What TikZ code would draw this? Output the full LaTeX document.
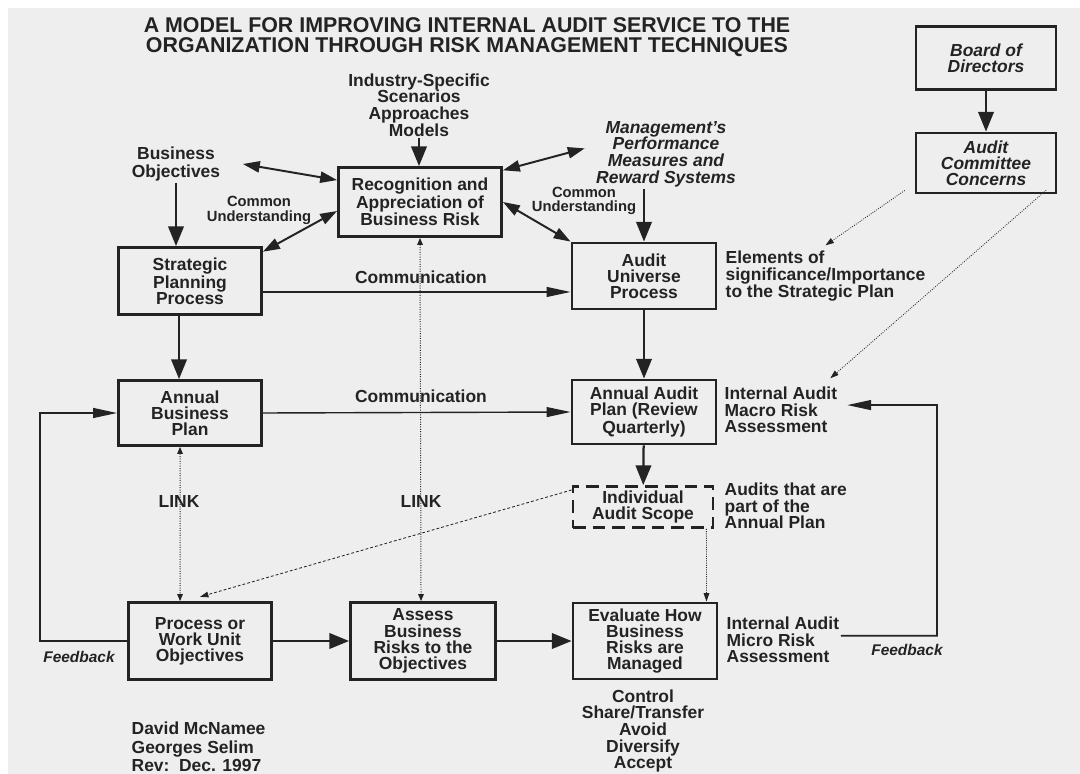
\documentclass[tikz,border=0pt]{standalone}
\usepackage{fontspec}
\setmainfont{Liberation Sans}
\usetikzlibrary{arrows.meta}
\definecolor{ink}{HTML}{232323}
\definecolor{paper}{HTML}{EEEEEE}

\begin{document}
\begin{tikzpicture}[x=0.025cm, y=-0.025cm,
  box/.style={draw=ink, line width=2pt, align=center, inner sep=1pt, text=ink, font=\bfseries\fontsize{12.4}{11.5}\selectfont},
  itbox/.style={box, font=\bfseries\itshape\fontsize{12.4}{11.5}\selectfont},
  lbl/.style={align=center, inner sep=1pt, text=ink, font=\bfseries\fontsize{12.4}{11.8}\selectfont},
  itlbl/.style={lbl, font=\bfseries\itshape\fontsize{12.4}{11.9}\selectfont},
  small/.style={lbl, font=\bfseries\fontsize{10.5}{10.5}\selectfont},
  fbtxt/.style={lbl, font=\bfseries\itshape\fontsize{11}{12}\selectfont},
  big/.style={draw=ink, line width=1.6pt, -{Triangle[length=14pt,width=11pt]}},
  dbl/.style={draw=ink, line width=1.4pt, {Triangle[length=12pt,width=8pt]}-{Triangle[length=12pt,width=8pt]}},
  comm/.style={draw=ink, line width=1pt, -{Triangle[length=17pt,width=7pt]}},
  fb/.style={draw=ink, line width=1.2pt, -{Triangle[length=17pt,width=7pt]}},
  link/.style={draw=ink, line width=0.7pt, densely dotted, {Triangle[length=5pt,width=4pt]}-{Triangle[length=5pt,width=4pt]}},
  dots/.style={draw=ink, line width=0.6pt, densely dotted, -{Triangle[length=6pt,width=4pt]}},
  dashln/.style={draw=ink, line width=0.6pt, dash pattern=on 2pt off 1.5pt, -{Triangle[length=6pt,width=4pt]}}
]
\useasboundingbox (0,0) rectangle (1080,774);
\fill[white] (0,0) rectangle (1080,774);
\fill[paper] (8,8) rectangle (1080,774);

% title
\node[lbl, font=\bfseries\fontsize{15.2}{14.2}\selectfont] (title) at (467,37)
  {A MODEL FOR IMPROVING INTERNAL AUDIT SERVICE TO THE\\ORGANIZATION THROUGH RISK MANAGEMENT TECHNIQUES};

% boxes
\node[itbox, minimum width=3.5cm, minimum height=1.575cm] (board) at (986,58) {Board of\\Directors};
\node[itbox, minimum width=3.5cm, minimum height=1.5cm] (committee) at (986,163) {Audit\\Committee\\Concerns};
\node[box, minimum width=4.075cm, minimum height=1.725cm] (recog) at (420,202) {Recognition and\\Appreciation of\\Business Risk};
\node[box, minimum width=3.575cm, minimum height=1.675cm] (strat) at (190,281) {Strategic\\Planning\\Process};
\node[box, minimum width=3.575cm, minimum height=1.625cm] (abp) at (190,413) {Annual\\Business\\Plan};
\node[box, minimum width=3.6cm, minimum height=1.65cm] (univ) at (644,276) {Audit\\Universe\\Process};
\node[box, minimum width=3.6cm, minimum height=1.6cm] (aap) at (644,412) {Annual Audit\\Plan (Review\\Quarterly)};
\node[box, dash pattern=on 9pt off 5pt, minimum width=3.5cm, minimum height=1.025cm] (scope) at (643,507) {Individual\\Audit Scope};
\node[box, minimum width=3.575cm, minimum height=1.925cm] (proc) at (200,641) {Process or\\Work Unit\\Objectives};
\node[box, minimum width=3.625cm, minimum height=1.925cm] (assess) at (423,641) {Assess\\Business\\Risks to the\\Objectives};
\node[box, minimum width=3.6cm, minimum height=1.9cm] (eval) at (645,641) {Evaluate How\\Business\\Risks are\\Managed};

% free texts
\node[lbl, font=\bfseries\fontsize{12.4}{11.9}\selectfont] (industry) at (419,105) {Industry-Specific\\Scenarios\\Approaches\\Models};
\node[lbl, font=\bfseries\fontsize{12.4}{12.5}\selectfont] (bizobj) at (176,164) {Business\\Objectives};
\node[itlbl] (mgmt) at (666,154) {Management's\\Performance\\Measures and\\Reward Systems};
\node[small, font=\bfseries\fontsize{10.5}{10.7}\selectfont] (cu1) at (259,210) {Common\\Understanding};
\node[small, font=\bfseries\fontsize{10.5}{9.4}\selectfont] (cu2) at (584,201) {Common\\Understanding};
\node[lbl, align=left, anchor=west] (elements) at (724,276) {Elements of\\significance/Importance\\to the Strategic Plan};
\node[lbl, align=left, anchor=west] (macro) at (723,410) {Internal Audit\\Macro Risk\\Assessment};
\node[lbl, align=left, anchor=west] (audits) at (723,506) {Audits that are\\part of the\\Annual Plan};
\node[lbl, align=left, anchor=west] (micro) at (725,640) {Internal Audit\\Micro Risk\\Assessment};
\node[lbl] (comm1) at (421,277) {Communication};
\node[lbl] (comm2) at (421,396) {Communication};
\node[lbl] (link1) at (179,502) {LINK};
\node[lbl] (link2) at (421,502) {LINK};
\node[fbtxt] (fb1) at (79,657) {Feedback};
\node[fbtxt] (fb2) at (907,650) {Feedback};
\node[lbl, font=\bfseries\fontsize{12.4}{11.9}\selectfont] (control) at (643,731) {Control\\Share/Transfer\\Avoid\\Diversify\\Accept};
\node[lbl, align=left, anchor=west, font=\bfseries\fontsize{12.4}{13}\selectfont] (authors) at (130,747) {David McNamee\\Georges Selim\\Rev:\ \ Dec. 1997};

% solid arrows
\draw[big] (board) -- (committee);
\draw[big] (industry.south) -- (industry.south |- recog.north);
\draw[big] (bizobj.south) -- (bizobj.south |- strat.north);
\draw[big] (univ.north |- mgmt.south) -- (univ.north);
\draw[big] ([xshift=-7.8pt]strat.south) -- ([xshift=-7.8pt]abp.north);
\draw[big] (univ) -- (aap);
\draw[big] (aap) -- (scope);
\draw[big] (proc) -- (assess);
\draw[big] (assess) -- (eval);

\draw[dbl] ([xshift=15pt]bizobj.east) -- ([yshift=15.6pt]recog.west);
\draw[dbl] ([yshift=-4pt]strat.north east) -- ([yshift=-6.4pt]recog.west);
\draw[dbl] ([yshift=-3pt]recog.north east) -- ([xshift=-7pt,yshift=4pt]mgmt.west);
\draw[dbl] (recog.east) -- (univ.north west);

% communication
\coordinate (c1) at ([yshift=-7.8pt]strat.east);
\draw[comm] (c1) -- (c1 -| univ.west);
\draw[comm] (abp.east) -- (aap.west);

% feedback loops
\coordinate (fbl) at (40,641);
\draw[fb] (proc.west) -- (fbl) |- (abp.west);
\coordinate (fbr) at (937,405);
\draw[fb] ([yshift=3pt]micro.east) -| (fbr) -- ([xshift=6pt,yshift=3.5pt]macro.east);

% links and dotted
\draw[link] ([xshift=-7.1pt]abp.south) -- ([xshift=-14.2pt]proc.north);
\draw[link] (recog.south) -- ([xshift=-1.4pt]assess.north);
\draw[dots] ([xshift=-7pt,yshift=2.8pt]committee.south west) -- ([yshift=3pt]elements.north);
\draw[dots] ([xshift=-8pt,yshift=3pt]committee.south east) -- ([xshift=-6pt,yshift=5pt]macro.north east);
\draw[dots] ([xshift=-5.7pt]scope.south east) -- ([xshift=-8.5pt]eval.north east);
\draw[dashln] ([yshift=-3.5pt]scope.north west) -- ([yshift=3pt]proc.north);
\end{tikzpicture}
\end{document}
